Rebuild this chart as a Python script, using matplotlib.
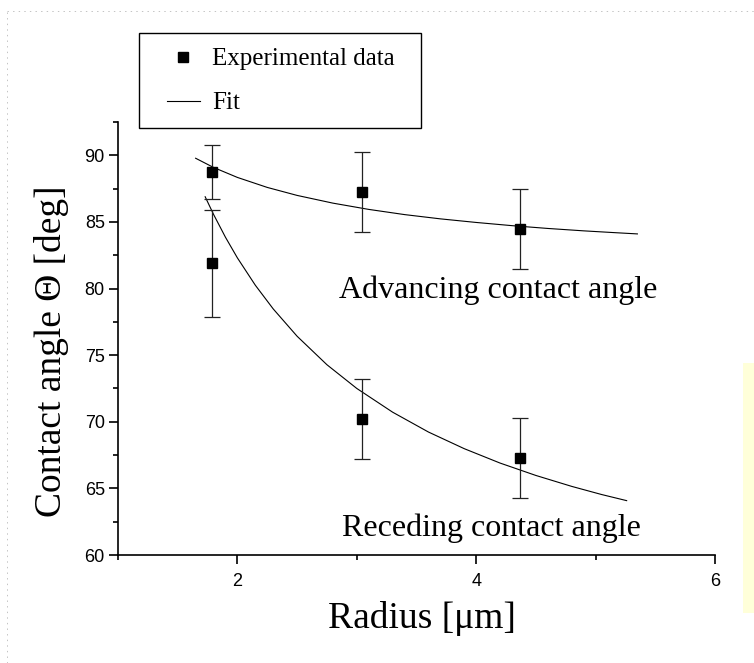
import matplotlib
matplotlib.use("Agg")
from matplotlib import pyplot as plt
from matplotlib.lines import Line2D
from matplotlib.patches import Rectangle
from matplotlib.ticker import MultipleLocator

# measured points (radius in um, angle in deg, error)
radius = [1.79, 3.04, 4.37]
advancing = [88.75, 87.25, 84.5]
advancing_err = [2.0, 3.0, 3.0]
receding = [81.9, 70.2, 67.3]
receding_err = [4.0, 3.0, 3.0]

# fit curves
adv_fit_r = [1.65, 1.8, 2.0, 2.25, 2.5, 2.8, 3.1, 3.4, 3.7, 4.0, 4.3, 4.6, 4.9, 5.15, 5.35]
adv_fit_theta = [89.78, 89.09, 88.34, 87.59, 86.99, 86.41, 85.94, 85.55, 85.23, 84.96,
                 84.72, 84.51, 84.33, 84.20, 84.10]
rec_fit_r = [1.73, 1.8, 1.9, 2.0, 2.15, 2.3, 2.5, 2.75, 3.0, 3.3, 3.6, 3.9, 4.2, 4.5,
             4.8, 5.05, 5.26]
rec_fit_theta = [86.89, 85.57, 83.85, 82.30, 80.25, 78.47, 76.42, 74.28, 72.50, 70.72,
                 69.23, 67.98, 66.90, 65.97, 65.15, 64.54, 64.08]

W, H = 754, 663
serif = "Liberation Serif"
sans = "Liberation Sans"

fig = plt.figure(figsize=(W / 100, H / 100), dpi=100)
ax = fig.add_axes([118 / W, 1 - 555 / H, (715 - 118) / W, (555 - 122) / H])

ebkw = dict(fmt="s", color="black", ecolor="#222222", elinewidth=0.9, capsize=6,
            capthick=0.9, markersize=6.5, zorder=3)
ax.errorbar(radius, advancing, yerr=advancing_err, **ebkw)
ax.errorbar(radius, receding, yerr=receding_err, **ebkw)
ax.plot(adv_fit_r, adv_fit_theta, color="black", lw=0.8)
ax.plot(rec_fit_r, rec_fit_theta, color="black", lw=0.8)

ax.text(2.855, 79.3, "Advancing contact angle", family=serif, fontsize=23, va="baseline")
ax.text(2.878, 61.4, "Receding contact angle", family=serif, fontsize=23, va="baseline")

ax.set_xlim(1, 6)
ax.set_ylim(60, 92.5)
ax.xaxis.set_major_locator(MultipleLocator(2))
ax.xaxis.set_minor_locator(MultipleLocator(1))
ax.yaxis.set_major_locator(MultipleLocator(5))
ax.yaxis.set_minor_locator(MultipleLocator(2.5))
for s in ["top", "right"]:
    ax.spines[s].set_visible(False)
for s in ["left", "bottom"]:
    ax.spines[s].set_linewidth(1.2)
ax.tick_params(which="major", length=6.5, width=1.2, direction="out", labelsize=13)
ax.tick_params(which="minor", length=3.6, width=1.2, direction="out")
ax.tick_params(axis="y", pad=3)
ax.tick_params(axis="x", pad=6.5)
for lab in ax.get_xticklabels() + ax.get_yticklabels():
    lab.set_family(sans)

fig.text(422 / W, 1 - 628 / H, "Radius [μm]", family=serif, fontsize=27,
         ha="center", va="baseline")
fig.text(52 / W, 1 - 351.5 / H, "Contact angle Θ [deg]", family=serif, fontsize=27,
         rotation=90, ha="center", va="center")

# legend box
fig.patches.append(Rectangle((139 / W, 1 - 128 / H), (421 - 139) / W, (128 - 33) / H,
                             transform=fig.transFigure, fill=False, edgecolor="black",
                             lw=1.0))
handles = [Line2D([], [], marker="s", color="black", linestyle="none", markersize=6.5),
           Line2D([], [], color="black", lw=0.8)]
fig.legend(handles, ["Experimental data", "Fit"], loc="upper left",
           bbox_to_anchor=(167 / W, 1 - 48 / H), bbox_transform=fig.transFigure,
           frameon=False, prop={"family": serif, "size": 18}, handlelength=1.3,
           handletextpad=0.5, labelspacing=0.85, borderpad=0, borderaxespad=0)

# pale yellow strip on the right edge
fig.patches.append(Rectangle((743 / W, 1 - 613 / H), 11 / W, 250 / H,
                             transform=fig.transFigure, color="#ffffd9", lw=0))

# dotted frame on top and left
fig.add_artist(Line2D([7 / W, 7 / W], [0, 1 - 11 / H], transform=fig.transFigure,
                      color="#c4c4c4", lw=0.72, linestyle=(0, (1.4, 4.2))))
fig.add_artist(Line2D([7 / W, 1], [1 - 11 / H, 1 - 11 / H], transform=fig.transFigure,
                      color="#c4c4c4", lw=0.72, linestyle=(0, (1.4, 4.2))))

fig.savefig("out.png", dpi=100)
